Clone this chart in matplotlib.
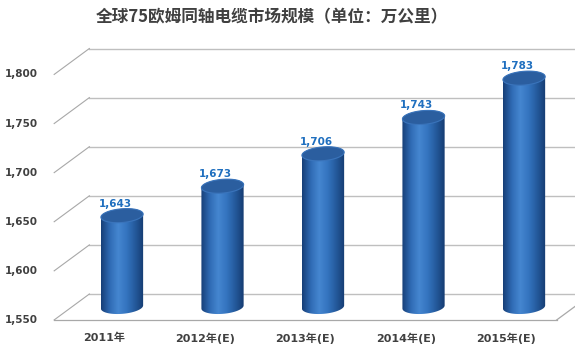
import numpy as np
import matplotlib.pyplot as plt
from matplotlib.colors import LinearSegmentedColormap
from matplotlib.patches import Polygon

plt.rcParams['font.family'] = ['DejaVu Sans', 'Noto Sans CJK SC']

title = "全球75欧姆同轴电缆市场规模（单位：万公里）"
years = ["2011年", "2012年(E)", "2013年(E)", "2014年(E)", "2015年(E)"]
market = [1643, 1673, 1706, 1743, 1783]
yticks = [1550, 1600, 1650, 1700, 1750, 1800]

BASE = 1550
DX, DY = 0.175, 13.2      # half depth of the fake 3D box (category / value units)
HW, EH, TILT = 0.21, 7.0, 1.6   # cylinder half width, ellipse half height, skew
GRID = "#bfbfbf"
TXT = "#404040"

body_cmap = LinearSegmentedColormap.from_list(
    "cyl", ["#173f78", "#2f6bb4", "#4586d0", "#3474bf", "#245a9c", "#163c72"])

fig = plt.figure(figsize=(5.75, 3.6), dpi=100)
ax = fig.add_axes([0, 0, 1, 1])
ax.set_xlim(-1.214, 4.507)
ax.set_ylim(1496, 1862.6)
ax.axis("off")

fig.text(0.473, 0.953, title, family=["Noto Sans CJK SC"], weight="bold",
         size=12, color=TXT, ha="center", va="center")

# back wall, side wall and floor lines
for v in yticks:
    ax.plot([-0.5 + DX, 5.0], [v + DY] * 2, color=GRID, lw=1, zorder=1)
    ax.plot([-0.5 - DX, -0.5 + DX], [v - DY, v + DY], color="#a8a8a8", lw=0.8, zorder=1)
    ax.annotate(f"{v:,}", (-0.5 - DX, v - DY), xytext=(-16, 0), textcoords="offset pixels",
                ha="right", va="center", size=7.5, weight="bold", color=TXT)
ax.plot([-0.5 - DX, 4.5 - DX], [BASE - DY] * 2, color="#a8a8a8", lw=0.9, zorder=1)
ax.plot([4.5 - DX, 4.5 + DX], [BASE - DY, BASE + DY], color="#a8a8a8", lw=0.9, zorder=1)


def ellipse(cx, cy, th):
    return cx + HW * np.cos(th), cy + EH * np.sin(th) + TILT * np.cos(th)


for i, (lab, v) in enumerate(zip(years, market)):
    lo = np.linspace(np.pi, 2 * np.pi, 60)
    hi = np.linspace(0, np.pi, 60)
    bx, by = ellipse(i, BASE, lo)
    tx, ty = ellipse(i, v, hi)
    outline = Polygon(np.column_stack([np.r_[bx, tx], np.r_[by, ty]]),
                      closed=True, fc="none", ec="none")
    ax.add_patch(outline)
    grad = np.linspace(0, 1, 64).reshape(1, -1)
    im = ax.imshow(grad, cmap=body_cmap, aspect="auto", interpolation="bilinear",
                   extent=[i - HW, i + HW, BASE - EH - TILT, v + EH + TILT], zorder=3)
    im.set_clip_path(outline)
    th = np.linspace(0, 2 * np.pi, 120)
    ex, ey = ellipse(i, v, th)
    ax.add_patch(Polygon(np.column_stack([ex, ey]), closed=True, fc="#2b5e9f",
                         ec="#3a74bb", lw=0.8, zorder=4))

    ax.annotate(f"{v:,}", (i, v), xytext=(-7, 12), textcoords="offset pixels",
                ha="center", va="center", size=7.5, weight="bold", color="#1f6fbf", zorder=5)
    ax.annotate(lab, (i - DX, BASE - DY), xytext=(0, -18), textcoords="offset pixels",
                ha="center", va="center", size=8, weight="bold", color=TXT)

fig.savefig("out.png", dpi=100, facecolor="white")
